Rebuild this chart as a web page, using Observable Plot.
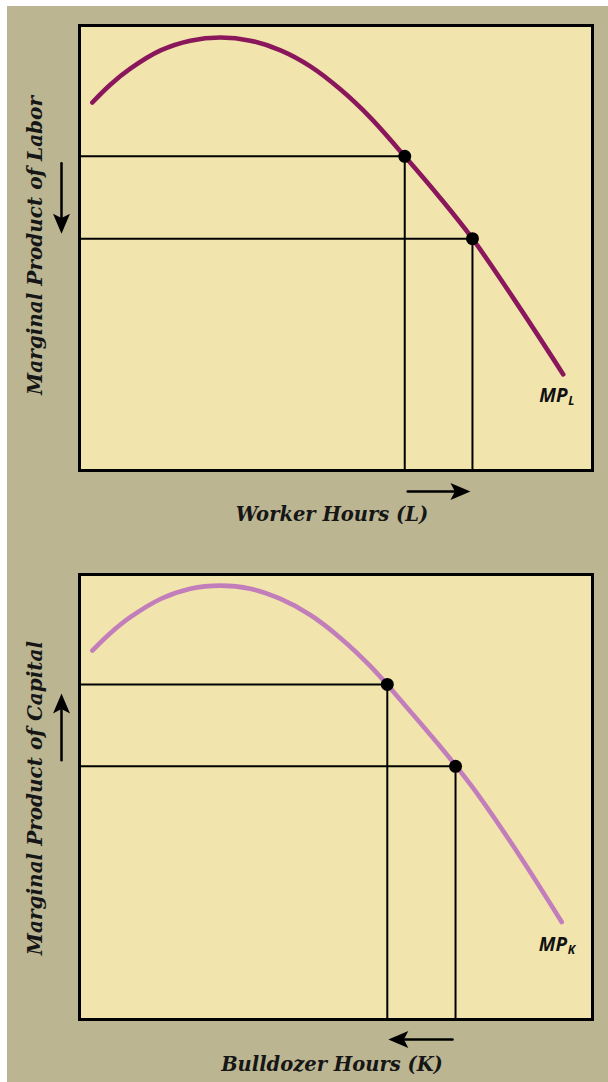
<!DOCTYPE html>
<html>
<head>
<meta charset="utf-8">
<script src="https://cdn.jsdelivr.net/npm/d3@7"></script>
<script src="https://cdn.jsdelivr.net/npm/@observablehq/plot@0.6"></script>
<style>
  html, body { margin: 0; padding: 0; background: #ffffff; }
  #sheet { position: absolute; left: 7px; top: 6px; width: 601px; height: 1076px; background: #bbb592; }
  #sheet svg { display: block; }
</style>
</head>
<body>
<div id="sheet"></div>
<script>
// Marginal product of labor: worker hours vs. marginal product
const laborHours = [2.5, 6.0, 9.9, 15.8, 21.6, 27.5, 33.3, 39.2, 45.0, 50.9, 56.7, 63.4, 70.2, 76.6, 85.8, 94.3];
const laborMP    = [82.7, 86.7, 90.3, 94.4, 96.6, 97.3, 96.6, 94.4, 90.8, 85.6, 79.3, 70.6, 61.4, 52.1, 36.6, 21.6];
// Two highlighted labor choices (before / after)
const laborPointHours = [63.4, 76.6];
const laborPointMP    = [70.6, 52.1];

// Marginal product of capital: bulldozer hours vs. marginal product
const capitalHours = [2.5, 6.0, 9.9, 15.8, 21.6, 27.5, 33.3, 39.2, 45.0, 50.9, 56.7, 63.4, 70.2, 76.6, 85.8, 94.0];
const capitalMP    = [82.9, 86.8, 90.4, 94.5, 96.8, 97.5, 96.8, 94.5, 90.9, 85.7, 79.4, 70.7, 61.5, 52.2, 36.8, 21.9];
// Two highlighted capital choices
const capitalPointHours = [60.0, 73.3];
const capitalPointMP    = [75.3, 56.9];

// Text
const xTitles = ["Worker Hours (L)", "Bulldozer Hours (K)"];
const yTitles = ["Marginal Product of Labor", "Marginal Product of Capital"];
const curveNames = ["MP", "MP"];
const curveSubs = ["L", "K"];

// Colours
const sheetFill = "#f1e5ad";
const laborColor = "#8a175c";
const capitalColor = "#c27dbb";

// Filled, notched arrowhead; tip at the origin, pointing up
const arrowHead = {
  draw(ctx, size) {
    const r = Math.sqrt(size / Math.PI);
    const len = 2 * r, half = 0.85 * r;
    ctx.moveTo(0, 0);
    ctx.lineTo(half, len);
    ctx.lineTo(0, len * 0.78);
    ctx.lineTo(-half, len);
    ctx.closePath();
  }
};

const titleFont = { fontFamily: "DejaVu Serif", fontWeight: "bold", fontStyle: "italic", fill: "#161616", textAnchor: "middle", lineAnchor: "middle" };
const curveFont = { fontFamily: "Open Sans", fontWeight: "bold", fontStyle: "italic", fill: "#111" };

function panel(cfg) {
  const curve = cfg.hours.map((h, i) => ({ h, mp: cfg.mp[i] }));
  const pts = cfg.ptsH.map((h, i) => ({ h, mp: cfg.ptsMP[i] }));
  const [a, b] = cfg.reverse ? [pts[1], pts[0]] : [pts[0], pts[1]];
  return Plot.plot({
    width: 601,
    height: cfg.height,
    marginLeft: 72,
    marginRight: 16,
    marginTop: cfg.marginTop,
    marginBottom: cfg.marginBottom,
    x: { domain: [0, 100], axis: null },
    y: { domain: [0, 100], axis: null },
    style: { background: "transparent", overflow: "visible" },
    marks: [
      Plot.frame({ fill: sheetFill, stroke: null }),
      // guide lines from the axes to each highlighted point
      Plot.ruleY(pts, { y: "mp", x1: 0, x2: "h", stroke: "#000", strokeWidth: 2 }),
      Plot.ruleX(pts, { x: "h", y1: 0, y2: "mp", stroke: "#000", strokeWidth: 2 }),
      Plot.line(curve, { x: "h", y: "mp", curve: "catmull-rom", stroke: cfg.color, strokeWidth: 4.6 }),
      Plot.dot(pts, { x: "h", y: "mp", r: 6.5, fill: "#000" }),
      // curve name with subscript at the end of the curve
      Plot.text(curve, Plot.selectLast({ x: "h", y: "mp", text: () => cfg.name, textAnchor: "start", dx: cfg.nameDx, dy: cfg.nameDy, fontSize: 19, ...curveFont })),
      Plot.text(curve, Plot.selectLast({ x: "h", y: "mp", text: () => cfg.sub, textAnchor: "start", dx: cfg.subDx, dy: cfg.subDy, fontSize: 12, ...curveFont })),
      // direction of the change along the horizontal axis
      Plot.arrow([{ x1: a.h, x2: b.h }], { x1: "x1", x2: "x2", y1: 0, y2: 0, dy: cfg.xArrowDy, insetStart: 3, insetEnd: 10, headLength: 0, stroke: "#000", strokeWidth: 2.5 }),
      Plot.dot([b], { x: "h", y: 0, dy: cfg.xArrowDy, dx: cfg.reverse ? 1 : -2, symbol: arrowHead, r: 10, rotate: cfg.reverse ? -90 : 90, fill: "#000", stroke: null }),
      // direction of the change along the vertical axis
      Plot.arrow([{ y1: a.mp, y2: b.mp }], { x1: 0, x2: 0, y1: "y1", y2: "y2", dx: -18, insetStart: cfg.reverse ? 6 : 7, insetEnd: cfg.reverse ? 15 : 12, headLength: 0, stroke: "#000", strokeWidth: 2.5 }),
      Plot.dot([b], { x: 0, y: "mp", dx: -18, dy: cfg.reverse ? 9 : -5, symbol: arrowHead, r: 10, rotate: cfg.reverse ? 0 : 180, fill: "#000", stroke: null }),
      // axis titles
      Plot.text([cfg.xTitle], { frameAnchor: "bottom", text: d => d, dx: -4, dy: cfg.xTitleDy, fontSize: 19.5, ...titleFont }),
      Plot.text([cfg.yTitle], { frameAnchor: "left", text: d => d, rotate: -90, dx: -44, dy: cfg.yTitleDy, fontSize: 20, ...titleFont }),
      Plot.frame({ stroke: "#000", strokeWidth: 3 })
    ]
  });
}

const sheet = document.getElementById("sheet");
sheet.append(panel({
  hours: laborHours, mp: laborMP, ptsH: laborPointHours, ptsMP: laborPointMP,
  color: laborColor, name: curveNames[0], sub: curveSubs[0],
  xTitle: xTitles[0], yTitle: yTitles[0], reverse: false,
  height: 542, marginTop: 19, marginBottom: 78,
  nameDx: -24, nameDy: 22, subDx: 5, subDy: 27,
  xArrowDy: 21, xTitleDy: 44, yTitleDy: -2.5
}));
sheet.append(panel({
  hours: capitalHours, mp: capitalMP, ptsH: capitalPointHours, ptsMP: capitalPointMP,
  color: capitalColor, name: curveNames[1], sub: curveSubs[1],
  xTitle: xTitles[1], yTitle: yTitles[1], reverse: true,
  height: 534, marginTop: 26, marginBottom: 63,
  nameDx: -23, nameDy: 22.5, subDx: 6, subDy: 28,
  xArrowDy: 20, xTitleDy: 45, yTitleDy: 1
}));
</script>
</body>
</html>
